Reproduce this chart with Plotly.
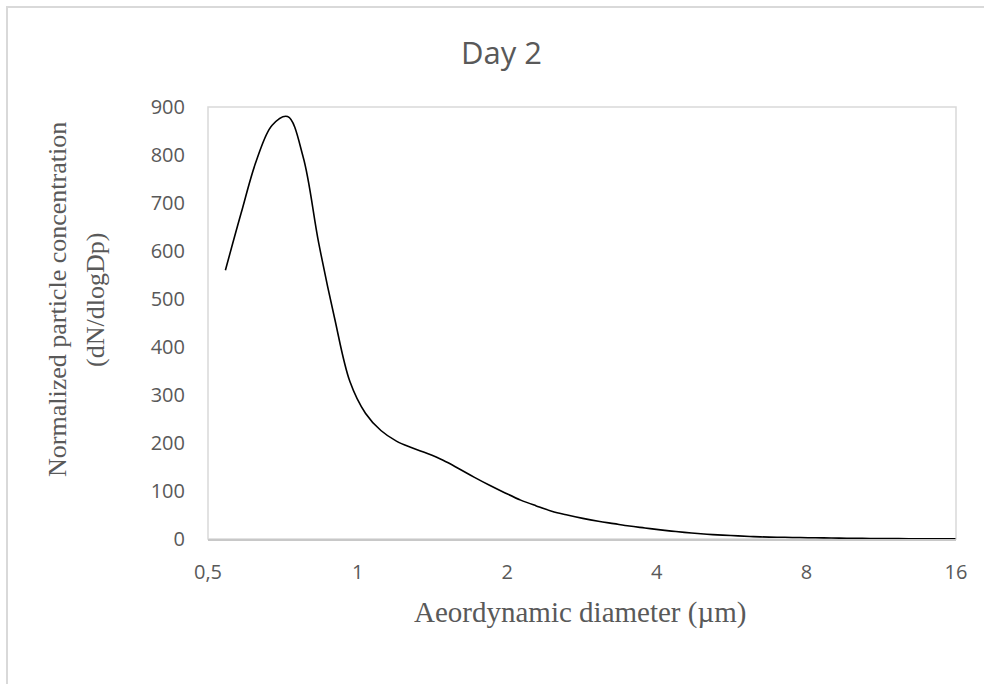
import plotly.graph_objects as go

# Data (APS channel midpoint diameters, µm)
diameter_um = [0.542, 0.583, 0.626, 0.673, 0.723, 0.777, 0.835, 0.898, 0.965, 1.037,
               1.114, 1.197, 1.286, 1.382, 1.486, 1.596, 1.715, 1.843, 1.981, 2.129,
               2.288, 2.458, 2.642, 2.839, 3.051, 3.278, 3.523, 3.786, 4.068, 4.371,
               4.698, 5.048, 5.425, 5.829, 6.264, 6.732, 7.234, 7.774, 8.354, 8.977,
               9.647, 10.37, 11.14, 11.97, 12.86, 13.82, 14.86, 15.96]
dn_dlogdp = [560, 679, 789, 862, 880, 796, 617, 462, 328, 262,
             226, 204, 190, 178, 164, 147, 129, 112, 96, 81,
             69, 58, 50, 43, 37, 32, 27, 23, 19, 15.5,
             12.5, 10, 8, 6.5, 5, 4, 3.5, 3, 2.5, 2,
             1.5, 1.2, 1.0, 0.8, 0.6, 0.5, 0.4, 0.3]

x_tick_vals = [0.5, 1, 2, 4, 8, 16]
x_tick_text = ["0,5", "1", "2", "4", "8", "16"]
y_tick_vals = [0, 100, 200, 300, 400, 500, 600, 700, 800, 900]

title_text = "Day 2"
x_title = "Aeordynamic diameter (µm)"
y_title_line1 = "Normalized particle concentration"
y_title_line2 = "(dN/dlogDp)"

W, H = 984, 684
L, R, T, B = 208, 956, 107, 539


def px(xp):
    return (xp - L) / (R - L)


def py(yp):
    return (B - yp) / (B - T)


TXT = "#595959"
TICKFONT = dict(family="Open Sans", size=20, color=TXT)
SERIF = "Liberation Serif"

fig = go.Figure()
fig.add_trace(go.Scatter(
    x=diameter_um, y=dn_dlogdp, mode="lines",
    line=dict(color="black", width=1.6, shape="spline", smoothing=1.0),
    hoverinfo="skip", showlegend=False,
))

fig.update_layout(
    width=W, height=H,
    margin=dict(l=L, r=W - R, t=T, b=H - B),
    paper_bgcolor="white", plot_bgcolor="white",
    showlegend=False,
    xaxis=dict(
        type="log", range=[-0.30103, 1.20412],
        tickvals=x_tick_vals, ticktext=x_tick_text,
        showgrid=False, zeroline=False,
        showline=True, linecolor="#c8c8c8", linewidth=2,
        ticks="", tickfont=TICKFONT, ticklabelstandoff=14,
    ),
    yaxis=dict(
        range=[0, 900], tickvals=y_tick_vals,
        showgrid=False, zeroline=False, showline=False,
        ticks="", tickfont=TICKFONT, ticklabelstandoff=22,
    ),
    shapes=[
        # plot area border
        dict(type="rect", xref="paper", yref="paper", x0=0, x1=1, y0=0, y1=1,
             line=dict(color="#d9d9d9", width=1.5), layer="below"),
        # chart area border (extends beyond the window on right/bottom)
        dict(type="rect", xref="paper", yref="paper",
             x0=px(7), x1=px(1010), y0=py(700), y1=py(7),
             line=dict(color="#d9d9d9", width=2), layer="below"),
    ],
    annotations=[
        dict(text=title_text, xref="paper", yref="paper", x=px(501), y=py(52),
             xanchor="center", yanchor="middle", showarrow=False,
             font=dict(family="Open Sans", size=31, color=TXT)),
        dict(text=x_title, xref="paper", yref="paper", x=px(580), y=py(612),
             xanchor="center", yanchor="middle", showarrow=False,
             font=dict(family=SERIF, size=29, color=TXT)),
        dict(text=y_title_line1, xref="paper", yref="paper", x=px(57), y=py(300),
             xanchor="center", yanchor="middle", showarrow=False, textangle=-90,
             font=dict(family=SERIF, size=26, color=TXT)),
        dict(text=y_title_line2, xref="paper", yref="paper", x=px(95), y=py(300),
             xanchor="center", yanchor="middle", showarrow=False, textangle=-90,
             font=dict(family=SERIF, size=26, color=TXT)),
    ],
)

fig.write_html("out.html")
